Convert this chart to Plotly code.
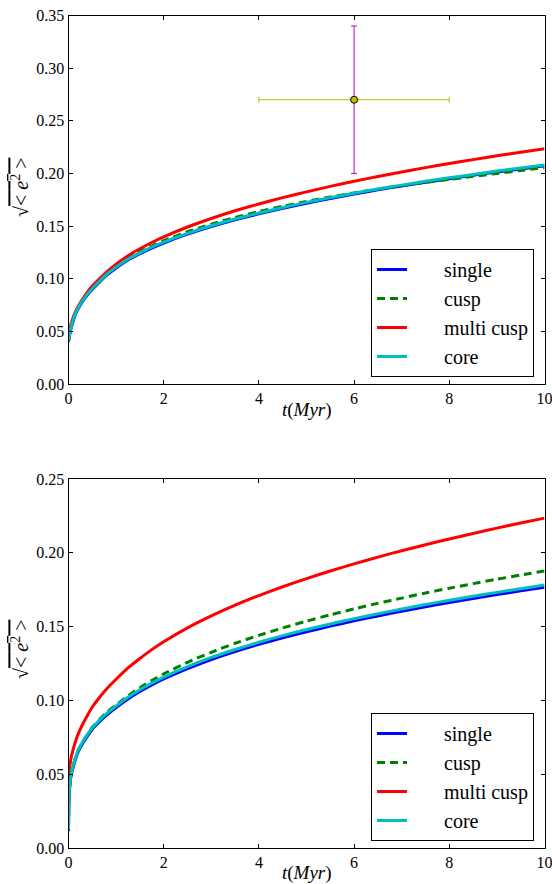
import plotly.graph_objects as go

# time grid (Myr) shared by every curve
t = [0, 0.01, 0.03, 0.06, 0.1, 0.15, 0.2, 0.3, 0.4, 0.5, 0.65, 0.8, 1.0, 1.25, 1.5, 1.75,
     2.0, 2.5, 3.0, 3.5, 4.0, 4.5, 5.0, 5.5, 6.0, 6.5, 7.0, 7.5, 8.0, 8.5, 9.0, 9.5, 10.0]

# upper panel: sqrt(<e^2>) per model
top_single = [0.040, 0.043, 0.048, 0.054, 0.060, 0.0667, 0.0712, 0.0787, 0.0847, 0.0897, 0.0967,
              0.1032, 0.1102, 0.1178, 0.1238, 0.1291, 0.1339, 0.1423, 0.1495, 0.1559, 0.1616,
              0.1669, 0.1717, 0.1762, 0.1804, 0.1844, 0.1881, 0.1917, 0.1950, 0.1982, 0.2014,
              0.2043, 0.2072]
top_cusp = [0.041, 0.044, 0.049, 0.055, 0.061, 0.0678, 0.0724, 0.0800, 0.0861, 0.0912, 0.0983,
            0.1049, 0.1120, 0.1197, 0.1258, 0.1312, 0.1361, 0.1446, 0.1518, 0.1581, 0.1637,
            0.1688, 0.1734, 0.1776, 0.1815, 0.1851, 0.1884, 0.1915, 0.1944, 0.1972, 0.2000,
            0.2028, 0.2056]
top_multi = [0.045, 0.048, 0.0525, 0.058, 0.0635, 0.069, 0.0735, 0.081, 0.0875, 0.093, 0.0998,
             0.1062, 0.1137, 0.1218, 0.1284, 0.1344, 0.1397, 0.1491, 0.1572, 0.1645, 0.1710,
             0.1770, 0.1825, 0.1877, 0.1925, 0.1971, 0.2014, 0.2055, 0.2094, 0.2131, 0.2167,
             0.2202, 0.2235]
top_core = [0.041, 0.044, 0.049, 0.055, 0.061, 0.0675, 0.072, 0.0795, 0.0855, 0.0905, 0.0975,
            0.104, 0.111, 0.1186, 0.1246, 0.1299, 0.1347, 0.1431, 0.1503, 0.1567, 0.1624,
            0.1677, 0.1725, 0.1770, 0.1812, 0.1852, 0.1889, 0.1925, 0.1958, 0.1990, 0.2022,
            0.2051, 0.2080]

# lower panel
bot_single = [0.0115, 0.032, 0.043, 0.050, 0.055, 0.0605, 0.065, 0.071, 0.076, 0.0805, 0.0855,
              0.090, 0.0952, 0.1010, 0.1060, 0.1105, 0.1145, 0.1215, 0.1277, 0.1331, 0.1380,
              0.1424, 0.1465, 0.1503, 0.1539, 0.1572, 0.1604, 0.1635, 0.1663, 0.1691, 0.1717,
              0.1742, 0.1767]
bot_cusp = [0.0125, 0.033, 0.044, 0.051, 0.056, 0.0615, 0.066, 0.072, 0.077, 0.0818, 0.0870,
            0.0918, 0.0970, 0.1030, 0.1086, 0.1135, 0.1180, 0.1258, 0.1326, 0.1387, 0.1441,
            0.1491, 0.1537, 0.1580, 0.1620, 0.1658, 0.1693, 0.1728, 0.1760, 0.1791, 0.1821,
            0.1849, 0.1877]
bot_multi = [0.044, 0.050, 0.056, 0.062, 0.067, 0.0725, 0.077, 0.084, 0.090, 0.0955, 0.1020,
             0.1078, 0.1143, 0.1220, 0.1284, 0.1344, 0.1397, 0.1491, 0.1572, 0.1645, 0.1710,
             0.1770, 0.1825, 0.1877, 0.1925, 0.1971, 0.2014, 0.2055, 0.2094, 0.2131, 0.2167,
             0.2202, 0.2235]
bot_core = [0.0125, 0.033, 0.044, 0.051, 0.056, 0.0615, 0.066, 0.072, 0.077, 0.0815, 0.0865,
            0.091, 0.0962, 0.1021, 0.1072, 0.1117, 0.1158, 0.1229, 0.1291, 0.1345, 0.1394,
            0.1439, 0.1480, 0.1518, 0.1554, 0.1587, 0.1619, 0.1650, 0.1678, 0.1706, 0.1732,
            0.1757, 0.1782]

# observed point with error bars (upper panel)
obs_t = [6]
obs_e = [0.27]
obs_t_err = [2]
obs_e_err = [0.07]

names = ["single", "cusp", "multi cusp", "core"]
colors = ["#0000ff", "#008000", "#ff0000", "#00bfbf"]
dashes = ["solid", "8px,5px", "solid", "solid"]

FONT = "Liberation Serif"

fig = go.Figure()

panels = [
    ("x", "y", "legend", [top_single, top_cusp, top_multi, top_core]),
    ("x2", "y2", "legend2", [bot_single, bot_cusp, bot_multi, bot_core]),
]
for xa, ya, lg, series in panels:
    for name, col, dash, vals in zip(names, colors, dashes, series):
        fig.add_trace(go.Scatter(
            x=t, y=vals, mode="lines", name="\u2003\u2009\u2009\u2009" + name,
            line=dict(color=col, width=3, dash=dash, shape="spline", smoothing=0.6),
            xaxis=xa, yaxis=ya, legend=lg,
        ))

fig.add_trace(go.Scatter(
    x=obs_t, y=obs_e, mode="markers", showlegend=False,
    marker=dict(color="#bfbf00", size=7, line=dict(color="black", width=1)),
    error_x=dict(type="data", array=obs_t_err, color="#bfbf00", thickness=1, width=3),
    error_y=dict(type="data", array=obs_e_err, color="#bf00bf", thickness=1, width=3),
    xaxis="x", yaxis="y",
))

W, H = 552, 884
x_dom = [68.5 / W, 544.5 / W]
top_dom = [(H - 384) / H, (H - 15.5) / H]
bot_dom = [(H - 848) / H, (H - 479) / H]

axis_common = dict(
    showgrid=False, zeroline=False, showline=True, linecolor="black", linewidth=1,
    mirror="allticks", ticks="inside", ticklen=4, tickwidth=1, tickcolor="black",
    tickfont=dict(family=FONT, size=16, color="black"), automargin=False,
    ticklabeloverflow="allow",
)

legend_common = dict(
    xanchor="right", yanchor="bottom", bordercolor="black", borderwidth=1, bgcolor="white",
    font=dict(family=FONT, size=20, color="black"),
)

fig.update_layout(
    width=W, height=H, margin=dict(l=0, r=0, t=0, b=0),
    paper_bgcolor="white", plot_bgcolor="white",
    xaxis=dict(domain=x_dom, anchor="y", range=[0, 10], dtick=2, **axis_common),
    yaxis=dict(domain=top_dom, anchor="x", range=[0, 0.35], dtick=0.05, tickformat=".2f", **axis_common),
    xaxis2=dict(domain=x_dom, anchor="y2", range=[0, 10], dtick=2, **axis_common),
    yaxis2=dict(domain=bot_dom, anchor="x2", range=[0, 0.25], dtick=0.05, tickformat=".2f", **axis_common),
    legend=dict(x=534 / W, y=(H - 377) / H, **legend_common),
    legend2=dict(x=534 / W, y=(H - 841) / H, **legend_common),
    showlegend=True,
)

ylabel = "\u221a<span style='text-decoration:overline'>&lt; <i>e</i><sup>2</sup> &gt;</span>"
xlabel = "<i>t</i>(<i>Myr</i>)"
for yc, xl_y in [((H - 188) / H, (H - 410) / H), ((H - 650) / H, (H - 873) / H)]:
    fig.add_annotation(text=ylabel, x=20 / W, y=yc, xref="paper", yref="paper",
                       xanchor="center", yanchor="middle", textangle=-90, showarrow=False,
                       font=dict(family=FONT, size=20, color="black"))
    fig.add_annotation(text=xlabel, x=(68.5 + 544.5) / 2 / W, y=xl_y, xref="paper", yref="paper",
                       xanchor="center", yanchor="middle", showarrow=False,
                       font=dict(family=FONT, size=19, color="black"))

fig.write_html("out.html")
